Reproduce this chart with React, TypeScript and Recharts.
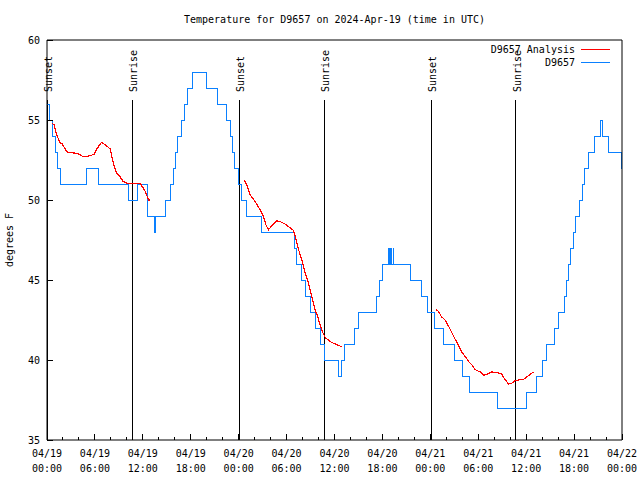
import { LineChart, Line, XAxis, YAxis, ReferenceLine } from "recharts";

const FONT = '"DejaVu Sans Mono", monospace';
const BLUE = "#0a80ff";
const RED = "#ff0000";

// D9657 reported temperature (deg F): [hours since 04/19 00:00 UTC, value from that time on]
const observed: [number, number][] = [
  [0, 56], [0.3, 55], [0.67, 54], [1.1, 53], [1.3, 52], [1.7, 51],
  [5.0, 52], [6.4, 51],
  [10.25, 50], [11.3, 51], [12.6, 49], [13.45, 48], [13.6, 49],
  [14.9, 50], [15.5, 51], [15.8, 52], [16.1, 53], [16.4, 54], [16.85, 55], [17.2, 56], [17.6, 57], [18.25, 58],
  [19.95, 57], [21.3, 56], [22.45, 55], [22.95, 54], [23.25, 53], [23.5, 52], [24.0, 51], [24.35, 50], [25.0, 49],
  [26.85, 48], [31.0, 47], [31.3, 46], [31.9, 45], [32.4, 44], [33.0, 43], [33.6, 42], [34.2, 41], [34.8, 40],
  [36.45, 39], [36.85, 40], [37.2, 41], [38.5, 42], [38.95, 43], [41.2, 44], [41.6, 45], [41.95, 46],
  [42.8, 47], [42.9, 46], [43.05, 47], [43.15, 46], [43.35, 47], [43.45, 46],
  [45.5, 45], [46.85, 44], [47.7, 43], [48.55, 42], [49.65, 41], [51.05, 40], [52.05, 39], [52.85, 38],
  [56.35, 37], [60.05, 38], [61.35, 39], [62.1, 40], [62.55, 41], [63.5, 42], [64.1, 43], [64.8, 44],
  [65.05, 45], [65.3, 46], [65.6, 47], [65.9, 48], [66.2, 49], [66.65, 50], [67.05, 51], [67.35, 52],
  [67.75, 53], [68.55, 54], [69.35, 55], [69.5, 54], [70.35, 53], [71.9, 52], [72, 52],
];

// analysis curve, only drawn over the nights
const analysisNight1: [number, number][] = [
  [0.6, 54.8], [0.9, 54.7], [1.2, 54.1], [1.6, 53.6], [1.9, 53.5], [2.5, 53.0], [3.9, 52.9],
  [4.55, 52.7], [5.2, 52.75], [5.9, 52.85], [6.25, 53.2], [6.8, 53.6], [7.3, 53.45], [7.9, 53.2],
  [8.3, 52.3], [8.7, 51.7], [9.15, 51.45], [9.55, 51.15], [10.0, 51.05], [11.65, 51.05],
  [12.3, 50.55], [12.7, 50.0], [12.9, 50.0],
];
const analysisNight2: [number, number][] = [
  [24.7, 51.25], [25.0, 50.95], [25.45, 50.3], [25.8, 50.1], [26.3, 49.7], [26.8, 49.3], [27.1, 48.95],
  [27.45, 48.4], [27.75, 48.15], [28.15, 48.4], [28.8, 48.7], [29.2, 48.65], [29.8, 48.5], [30.35, 48.3],
  [30.85, 48.1], [31.1, 47.7], [31.5, 46.9], [31.9, 46.25], [32.35, 45.4], [32.75, 44.8], [33.15, 44.0],
  [33.6, 43.1], [33.9, 42.7], [34.2, 42.2], [34.55, 41.7], [34.85, 41.4], [35.45, 41.15], [36.1, 41.0],
  [36.9, 40.83],
];
const analysisNight3: [number, number][] = [
  [48.7, 43.15], [49.0, 43.05], [49.4, 42.7], [49.85, 42.5], [50.3, 42.1], [50.7, 41.7], [51.1, 41.3],
  [51.5, 40.95], [51.95, 40.5], [52.4, 40.2], [52.8, 39.9], [53.2, 39.7], [53.6, 39.4], [54.25, 39.25],
  [54.65, 39.05], [55.1, 39.1], [55.7, 39.25], [56.35, 39.2], [56.9, 39.15], [57.2, 38.9], [57.5, 38.7],
  [57.8, 38.5], [58.2, 38.55], [58.6, 38.7], [59.0, 38.75], [59.7, 38.8], [60.1, 38.95], [60.5, 39.1],
  [60.9, 39.25],
];

const sunsetHours = [0.05, 24.07, 48.1];
const sunriseHours = [10.7, 34.72, 58.7];

const xTicks = [
  0, 2, 4, 6, 8, 10, 12, 14, 16, 18, 20, 22, 24, 26, 28, 30, 32, 34, 36,
  38, 40, 42, 44, 46, 48, 50, 52, 54, 56, 58, 60, 62, 64, 66, 68, 70, 72,
];
const dateLabels = [
  "04/19", "04/19", "04/19", "04/19", "04/20", "04/20", "04/20",
  "04/20", "04/21", "04/21", "04/21", "04/21", "04/22",
];
const timeLabels = [
  "00:00", "06:00", "12:00", "18:00", "00:00", "06:00", "12:00",
  "18:00", "00:00", "06:00", "12:00", "18:00", "00:00",
];
const yTicks = [35, 40, 45, 50, 55, 60];

const toRows = (pts: [number, number][]) => pts.map(([h, v]) => ({ h, v }));

const BottomTick = ({ x, y, payload }: any) => {
  const h = payload.value;
  const major = h % 6 === 0;
  const i = h / 6;
  return (
    <g>
      <line x1={x} y1={y} x2={x} y2={y - (major ? 6 : 3)} stroke="#000" shapeRendering="crispEdges" />
      {major && (
        <text x={x} y={y + 17} textAnchor="middle" fontSize={10} fontFamily={FONT} fill="#000">
          {dateLabels[i]}
        </text>
      )}
      {major && (
        <text x={x} y={y + 32} textAnchor="middle" fontSize={10} fontFamily={FONT} fill="#000">
          {timeLabels[i]}
        </text>
      )}
    </g>
  );
};

const TopTick = ({ x, y, payload }: any) => {
  const major = payload.value % 6 === 0;
  return <line x1={x} y1={y} x2={x} y2={y + (major ? 6 : 3)} stroke="#000" shapeRendering="crispEdges" />;
};

const LeftTick = ({ x, y, payload }: any) => (
  <g>
    <line x1={x} y1={y} x2={x + 6} y2={y} stroke="#000" shapeRendering="crispEdges" />
    <text x={x - 7} y={y + 4} textAnchor="end" fontSize={10} fontFamily={FONT} fill="#000">
      {payload.value}
    </text>
  </g>
);

const RightTick = ({ x, y }: any) => (
  <line x1={x} y1={y} x2={x - 6} y2={y} stroke="#000" shapeRendering="crispEdges" />
);

const sunShape = (label: string) => (p: any) => {
  const top = Math.min(p.y1, p.y2);
  const bottom = Math.max(p.y1, p.y2);
  return (
    <g>
      <line x1={p.x1} y1={top + 60} x2={p.x1} y2={bottom} stroke="#000" shapeRendering="crispEdges" />
      <text
        x={p.x1 + 5}
        y={top + 52}
        transform={`rotate(-90 ${p.x1 + 5} ${top + 52})`}
        fontSize={10}
        fontFamily={FONT}
        fill="#000"
      >
        {label}
      </text>
    </g>
  );
};

export default function App() {
  return (
    <div style={{ position: "absolute", left: 0, top: 0, width: 640, height: 480, background: "#fff", fontFamily: FONT, fontSize: 10 }}>
      <div style={{ position: "absolute", left: 47, top: 14, width: 575, textAlign: "center", lineHeight: "12px" }}>
        Temperature for D9657 on 2024-Apr-19 (time in UTC)
      </div>
      <div
        style={{
          position: "absolute", left: -20, top: 234, width: 60, textAlign: "center",
          lineHeight: "12px", transform: "rotate(-90deg)",
        }}
      >
        degrees F
      </div>

      <LineChart width={640} height={480} margin={{ top: 10, right: 0, bottom: 0, left: 7 }} style={{ position: "absolute", left: 0, top: 0 }}>
        <XAxis
          xAxisId="bottom"
          dataKey="h"
          type="number"
          domain={[0, 72]}
          ticks={xTicks}
          interval={0}
          height={40}
          tickSize={0}
          tickMargin={0}
          tickLine={false}
          axisLine={{ stroke: "#000" }}
          tick={<BottomTick />}
        />
        <XAxis
          xAxisId="top"
          orientation="top"
          dataKey="h"
          type="number"
          domain={[0, 72]}
          ticks={xTicks}
          interval={0}
          height={30}
          tickSize={0}
          tickMargin={0}
          tickLine={false}
          axisLine={{ stroke: "#000" }}
          tick={<TopTick />}
        />
        <YAxis
          yAxisId="left"
          type="number"
          domain={[35, 60]}
          ticks={yTicks}
          interval={0}
          width={40}
          tickSize={0}
          tickMargin={0}
          tickLine={false}
          axisLine={{ stroke: "#000" }}
          tick={<LeftTick />}
        />
        <YAxis
          yAxisId="right"
          orientation="right"
          type="number"
          domain={[35, 60]}
          ticks={yTicks}
          interval={0}
          width={18}
          tickSize={0}
          tickMargin={0}
          tickLine={false}
          axisLine={{ stroke: "#000" }}
          tick={<RightTick />}
        />

        {sunsetHours.map((h) => (
          <ReferenceLine key={`ss-${h}`} xAxisId="bottom" yAxisId="left" x={h} stroke="#000" shape={sunShape("Sunset")} />
        ))}
        {sunriseHours.map((h) => (
          <ReferenceLine key={`sr-${h}`} xAxisId="bottom" yAxisId="left" x={h} stroke="#000" shape={sunShape("Sunrise")} />
        ))}

        <Line
          xAxisId="bottom"
          yAxisId="left"
          data={toRows(observed)}
          dataKey="v"
          type="stepAfter"
          stroke={BLUE}
          strokeWidth={1}
          shapeRendering="crispEdges"
          dot={false}
          isAnimationActive={false}
        />
        {[analysisNight1, analysisNight2, analysisNight3].map((seg, i) => (
          <Line
            key={`an-${i}`}
            xAxisId="bottom"
            yAxisId="left"
            data={toRows(seg)}
            dataKey="v"
            type="linear"
            stroke={RED}
            strokeWidth={1.2}
            shapeRendering="crispEdges"
            dot={false}
            isAnimationActive={false}
          />
        ))}
      </LineChart>

      <div style={{ position: "absolute", left: 460, top: 43, width: 115, textAlign: "right", lineHeight: "13px" }}>
        <div>D9657 Analysis</div>
        <div>D9657</div>
      </div>
      <div style={{ position: "absolute", left: 581, top: 49, width: 29, height: 1, background: RED }} />
      <div style={{ position: "absolute", left: 581, top: 62, width: 29, height: 1, background: BLUE }} />
    </div>
  );
}
